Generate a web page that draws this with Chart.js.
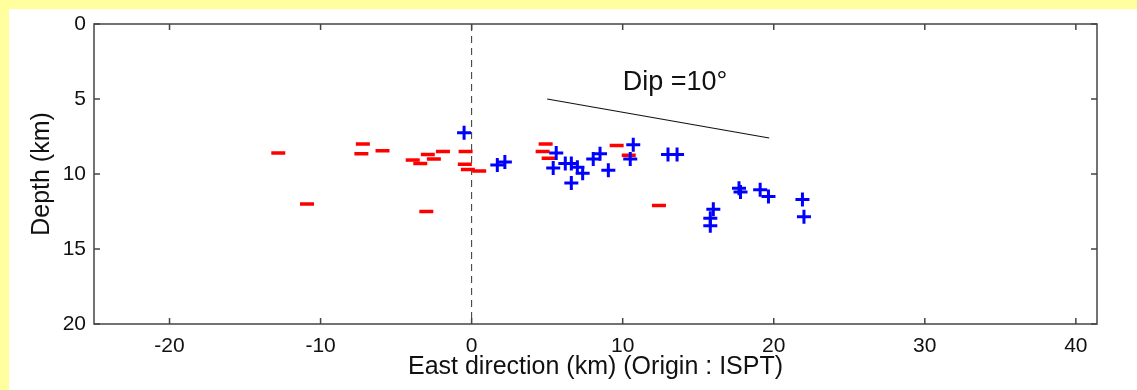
<!DOCTYPE html>
<html>
<head>
<meta charset="utf-8">
<script src="https://cdn.jsdelivr.net/npm/chart.js@4/dist/chart.umd.min.js"></script>
<style>
  html, body { margin: 0; padding: 0; background: #FFFF9E; }
  #wrap { width: 1137px; height: 390px; }
</style>
</head>
<body>
<div id="wrap"><canvas id="c" width="1137" height="390"></canvas></div>
<script>
// ---- data ----
const redX = [-12.8, -10.9, -7.2, -7.3, -5.9, -3.9, -3.4, -2.9, -2.5, -1.9, -0.4, -0.45, -0.25, 0.5, -3.0, 4.7, 4.9, 5.1, 9.6, 10.4, 12.4];
const redY = [8.6, 12.0, 8.0, 8.65, 8.45, 9.07, 9.3, 8.7, 9.0, 8.5, 8.5, 9.35, 9.7, 9.8, 12.5, 8.5, 8.0, 8.95, 8.1, 8.75, 12.1];

const blueX = [-0.5, 1.7, 2.2, 5.6, 5.4, 6.2, 6.6, 7.0, 7.35, 6.6, 8.05, 8.5, 9.05, 10.7, 10.5, 13.0, 13.6, 16.0, 15.8, 15.8, 17.7, 17.8, 19.1, 19.65, 21.9, 22.0];
const blueY = [7.25, 9.4, 9.2, 8.6, 9.6, 9.3, 9.3, 9.55, 9.95, 10.6, 9.0, 8.65, 9.75, 8.05, 9.0, 8.7, 8.7, 12.35, 12.95, 13.45, 10.95, 11.2, 11.05, 11.5, 11.7, 12.85];

const originLineX = [0, 0];
const originLineY = [0, 20];

const dipLineX = [5, 19.7];
const dipLineY = [5, 7.6];
const dipLabel = "Dip =10\u00B0";
const dipLabelX = 10;
const dipLabelY = 4.4;

const xTicks = [-20, -10, 0, 10, 20, 30, 40];
const yTicks = [0, 5, 10, 15, 20];
const xTitle = "East direction (km) (Origin : ISPT)";
const yTitle = "Depth (km)";

const toPts = (xs, ys) => xs.map((x, i) => ({ x: x, y: ys[i] }));

Chart.defaults.font.family = "'Liberation Sans', Arial, Helvetica, sans-serif";
Chart.defaults.color = "#111";

const framePlugin = {
  id: 'frame',
  beforeDraw(chart) {
    const ctx = chart.ctx;
    ctx.save();
    ctx.fillStyle = '#FFFF9E';
    ctx.fillRect(0, 0, chart.width, chart.height);
    ctx.fillStyle = '#FFFFFF';
    ctx.fillRect(9, 9, chart.width - 9, chart.height - 9);
    ctx.restore();
  },
  afterDatasetsDraw(chart) {
    const ctx = chart.ctx;
    const a = chart.chartArea;
    const xs = chart.scales.x, ys = chart.scales.y;
    ctx.save();
    ctx.strokeStyle = '#444';
    ctx.lineWidth = 1.5;
    ctx.strokeRect(a.left, a.top, a.right - a.left, a.bottom - a.top);
    const tl = 6;
    ctx.beginPath();
    xs.ticks.forEach(t => {
      const px = xs.getPixelForValue(t.value);
      ctx.moveTo(px, a.bottom); ctx.lineTo(px, a.bottom - tl);
      ctx.moveTo(px, a.top); ctx.lineTo(px, a.top + tl);
    });
    ys.ticks.forEach(t => {
      const py = ys.getPixelForValue(t.value);
      ctx.moveTo(a.left, py); ctx.lineTo(a.left + tl, py);
      ctx.moveTo(a.right, py); ctx.lineTo(a.right - tl, py);
    });
    ctx.stroke();
    // dip label
    ctx.fillStyle = '#111';
    ctx.font = "27px 'Liberation Sans', Arial, sans-serif";
    ctx.textBaseline = 'alphabetic';
    ctx.textAlign = 'left';
    ctx.fillText(dipLabel, xs.getPixelForValue(dipLabelX), ys.getPixelForValue(dipLabelY));
    ctx.restore();
  }
};

new Chart(document.getElementById('c'), {
  type: 'scatter',
  data: {
    datasets: [
      {
        label: 'blue',
        data: toPts(blueX, blueY),
        pointStyle: 'cross',
        pointRadius: 7,
        pointBorderWidth: 3,
        borderColor: '#0000FF',
        backgroundColor: '#0000FF',
        order: 0
      },
      {
        label: 'red',
        data: toPts(redX, redY),
        pointStyle: 'line',
        pointRadius: 7,
        pointBorderWidth: 3.5,
        borderColor: '#FF0000',
        backgroundColor: '#FF0000',
        order: 1
      },
      {
        type: 'line',
        label: 'origin',
        data: toPts(originLineX, originLineY),
        borderColor: '#333',
        borderWidth: 1,
        borderDash: [7, 5],
        pointRadius: 0,
        showLine: true,
        order: 2
      },
      {
        type: 'line',
        label: 'dip',
        data: toPts(dipLineX, dipLineY),
        borderColor: '#111',
        borderWidth: 1.2,
        pointRadius: 0,
        showLine: true,
        order: 2
      }
    ]
  },
  options: {
    responsive: false,
    animation: false,
    layout: { padding: { left: 0, top: 24, right: 40, bottom: 0 } },
    plugins: { legend: { display: false }, tooltip: { enabled: false } },
    scales: {
      x: {
        type: 'linear',
        min: -25,
        max: 41.4,
        grid: { display: false, drawTicks: false },
        border: { display: false },
        afterBuildTicks: (s) => { s.ticks = xTicks.map(v => ({ value: v })); },
        afterFit: (s) => { s.height = 66; },
        ticks: { font: { size: 21 }, padding: 10, maxRotation: 0, color: '#111' },
        title: { display: true, text: xTitle, font: { size: 25 }, padding: { top: 0, bottom: 8 }, color: '#111' }
      },
      y: {
        type: 'linear',
        reverse: true,
        min: 0,
        max: 20,
        grid: { display: false, drawTicks: false },
        border: { display: false },
        afterBuildTicks: (s) => { s.ticks = yTicks.map(v => ({ value: v })); },
        afterFit: (s) => { s.width = 94; },
        ticks: { font: { size: 21 }, padding: 8, color: '#111' },
        title: { display: true, text: yTitle, font: { size: 25 }, padding: { top: 27, bottom: 0 }, color: '#111' }
      }
    }
  },
  plugins: [framePlugin]
});
</script>
</body>
</html>
